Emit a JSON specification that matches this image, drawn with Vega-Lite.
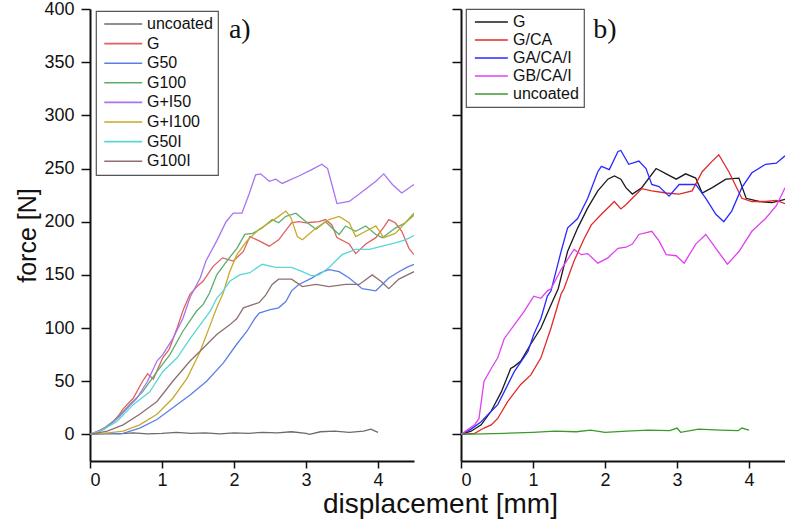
{
  "$schema": "https://vega.github.io/schema/vega-lite/v6.json",
  "padding": {"left": 15, "top": 0, "right": 0, "bottom": 0},
  "background": "white",
  "spacing": 37,
  "title": {"text": "displacement [mm]", "orient": "bottom", "anchor": "middle", "font": "Liberation Sans", "fontSize": 28, "fontWeight": "normal", "color": "#111", "offset": 2, "dx": 40},
  "config": {
    "view": {"stroke": null},
    "axis": {"domainColor": "#111", "domainWidth": 2, "tickColor": "#111", "tickWidth": 1.5, "labelFont": "Liberation Sans", "labelFontSize": 18, "labelColor": "#111", "grid": false, "titleFont": "Liberation Sans", "titleFontWeight": "normal", "titleColor": "#111", "labelOverlap": false, "format": ".0f"},
    "legend": {"labelFont": "Liberation Sans", "labelFontSize": 16, "labelColor": "#111", "symbolStrokeWidth": 1.6, "strokeColor": "#555", "strokeWidth": 1.2, "fillColor": "white", "orient": "none", "title": null}
  },
  "datasets": {
    "a": [
      {"s": "uncoated", "x": 0, "y": 0}, {"s": "uncoated", "x": 0.2, "y": 1}, {"s": "uncoated", "x": 0.4, "y": 0.5}, {"s": "uncoated", "x": 0.6, "y": 1.5}, {"s": "uncoated", "x": 0.8, "y": 0.5}, {"s": "uncoated", "x": 1.0, "y": 1}, {"s": "uncoated", "x": 1.2, "y": 2}, {"s": "uncoated", "x": 1.4, "y": 1}, {"s": "uncoated", "x": 1.6, "y": 1.5}, {"s": "uncoated", "x": 1.8, "y": 0.5}, {"s": "uncoated", "x": 2.0, "y": 1.5}, {"s": "uncoated", "x": 2.2, "y": 1}, {"s": "uncoated", "x": 2.4, "y": 2}, {"s": "uncoated", "x": 2.6, "y": 1.5}, {"s": "uncoated", "x": 2.8, "y": 2.5}, {"s": "uncoated", "x": 3.0, "y": 1}, {"s": "uncoated", "x": 3.05, "y": 0}, {"s": "uncoated", "x": 3.2, "y": 2.5}, {"s": "uncoated", "x": 3.4, "y": 3}, {"s": "uncoated", "x": 3.6, "y": 2}, {"s": "uncoated", "x": 3.8, "y": 3}, {"s": "uncoated", "x": 3.9, "y": 5}, {"s": "uncoated", "x": 4.0, "y": 2},
      {"s": "G", "x": 0, "y": 0}, {"s": "G", "x": 0.14, "y": 4}, {"s": "G", "x": 0.28, "y": 9}, {"s": "G", "x": 0.4, "y": 18}, {"s": "G", "x": 0.46, "y": 24}, {"s": "G", "x": 0.6, "y": 34}, {"s": "G", "x": 0.73, "y": 50}, {"s": "G", "x": 0.8, "y": 57}, {"s": "G", "x": 0.88, "y": 52}, {"s": "G", "x": 1.01, "y": 72}, {"s": "G", "x": 1.1, "y": 80}, {"s": "G", "x": 1.21, "y": 100}, {"s": "G", "x": 1.3, "y": 118}, {"s": "G", "x": 1.39, "y": 132}, {"s": "G", "x": 1.5, "y": 140}, {"s": "G", "x": 1.57, "y": 144}, {"s": "G", "x": 1.71, "y": 158}, {"s": "G", "x": 1.84, "y": 166}, {"s": "G", "x": 1.99, "y": 163}, {"s": "G", "x": 2.13, "y": 172}, {"s": "G", "x": 2.22, "y": 186}, {"s": "G", "x": 2.35, "y": 182}, {"s": "G", "x": 2.49, "y": 177}, {"s": "G", "x": 2.62, "y": 183}, {"s": "G", "x": 2.8, "y": 199}, {"s": "G", "x": 2.9, "y": 200}, {"s": "G", "x": 3.0, "y": 199}, {"s": "G", "x": 3.18, "y": 200}, {"s": "G", "x": 3.27, "y": 202}, {"s": "G", "x": 3.36, "y": 197}, {"s": "G", "x": 3.43, "y": 185}, {"s": "G", "x": 3.6, "y": 179}, {"s": "G", "x": 3.69, "y": 170}, {"s": "G", "x": 3.83, "y": 179}, {"s": "G", "x": 3.97, "y": 185}, {"s": "G", "x": 4.08, "y": 195}, {"s": "G", "x": 4.15, "y": 202}, {"s": "G", "x": 4.24, "y": 199}, {"s": "G", "x": 4.33, "y": 191}, {"s": "G", "x": 4.43, "y": 175}, {"s": "G", "x": 4.5, "y": 169},
      {"s": "G50", "x": 0, "y": 0}, {"s": "G50", "x": 0.2, "y": 0.5}, {"s": "G50", "x": 0.46, "y": 1}, {"s": "G50", "x": 0.69, "y": 6}, {"s": "G50", "x": 0.93, "y": 14}, {"s": "G50", "x": 1.15, "y": 25}, {"s": "G50", "x": 1.39, "y": 37}, {"s": "G50", "x": 1.62, "y": 50}, {"s": "G50", "x": 1.85, "y": 67}, {"s": "G50", "x": 2.04, "y": 85}, {"s": "G50", "x": 2.18, "y": 97}, {"s": "G50", "x": 2.29, "y": 109}, {"s": "G50", "x": 2.35, "y": 114}, {"s": "G50", "x": 2.49, "y": 117}, {"s": "G50", "x": 2.62, "y": 119}, {"s": "G50", "x": 2.72, "y": 125}, {"s": "G50", "x": 2.8, "y": 135}, {"s": "G50", "x": 2.9, "y": 141}, {"s": "G50", "x": 3.08, "y": 147}, {"s": "G50", "x": 3.2, "y": 152}, {"s": "G50", "x": 3.32, "y": 155}, {"s": "G50", "x": 3.46, "y": 153}, {"s": "G50", "x": 3.6, "y": 147}, {"s": "G50", "x": 3.78, "y": 137}, {"s": "G50", "x": 3.97, "y": 135}, {"s": "G50", "x": 4.06, "y": 141}, {"s": "G50", "x": 4.15, "y": 147}, {"s": "G50", "x": 4.29, "y": 153}, {"s": "G50", "x": 4.4, "y": 157}, {"s": "G50", "x": 4.5, "y": 160},
      {"s": "G100", "x": 0, "y": 0}, {"s": "G100", "x": 0.14, "y": 3}, {"s": "G100", "x": 0.37, "y": 15}, {"s": "G100", "x": 0.55, "y": 28}, {"s": "G100", "x": 0.73, "y": 40}, {"s": "G100", "x": 0.93, "y": 59}, {"s": "G100", "x": 1.11, "y": 75}, {"s": "G100", "x": 1.29, "y": 97}, {"s": "G100", "x": 1.48, "y": 116}, {"s": "G100", "x": 1.57, "y": 122}, {"s": "G100", "x": 1.66, "y": 133}, {"s": "G100", "x": 1.76, "y": 150}, {"s": "G100", "x": 1.9, "y": 163}, {"s": "G100", "x": 2.04, "y": 175}, {"s": "G100", "x": 2.15, "y": 188}, {"s": "G100", "x": 2.26, "y": 189}, {"s": "G100", "x": 2.39, "y": 194}, {"s": "G100", "x": 2.53, "y": 202}, {"s": "G100", "x": 2.62, "y": 199}, {"s": "G100", "x": 2.72, "y": 205}, {"s": "G100", "x": 2.86, "y": 208}, {"s": "G100", "x": 3.0, "y": 200}, {"s": "G100", "x": 3.14, "y": 193}, {"s": "G100", "x": 3.27, "y": 200}, {"s": "G100", "x": 3.46, "y": 188}, {"s": "G100", "x": 3.55, "y": 196}, {"s": "G100", "x": 3.69, "y": 191}, {"s": "G100", "x": 3.83, "y": 196}, {"s": "G100", "x": 3.97, "y": 188}, {"s": "G100", "x": 4.06, "y": 185}, {"s": "G100", "x": 4.24, "y": 194}, {"s": "G100", "x": 4.38, "y": 199}, {"s": "G100", "x": 4.5, "y": 208},
      {"s": "G+I50", "x": 0, "y": 0}, {"s": "G+I50", "x": 0.2, "y": 5}, {"s": "G+I50", "x": 0.4, "y": 16}, {"s": "G+I50", "x": 0.55, "y": 27}, {"s": "G+I50", "x": 0.65, "y": 34}, {"s": "G+I50", "x": 0.8, "y": 50}, {"s": "G+I50", "x": 0.93, "y": 69}, {"s": "G+I50", "x": 1.01, "y": 75}, {"s": "G+I50", "x": 1.15, "y": 90}, {"s": "G+I50", "x": 1.29, "y": 109}, {"s": "G+I50", "x": 1.39, "y": 129}, {"s": "G+I50", "x": 1.53, "y": 147}, {"s": "G+I50", "x": 1.61, "y": 163}, {"s": "G+I50", "x": 1.76, "y": 182}, {"s": "G+I50", "x": 1.89, "y": 200}, {"s": "G+I50", "x": 1.99, "y": 208}, {"s": "G+I50", "x": 2.11, "y": 208}, {"s": "G+I50", "x": 2.21, "y": 226}, {"s": "G+I50", "x": 2.3, "y": 244}, {"s": "G+I50", "x": 2.37, "y": 245}, {"s": "G+I50", "x": 2.49, "y": 238}, {"s": "G+I50", "x": 2.58, "y": 240}, {"s": "G+I50", "x": 2.67, "y": 236}, {"s": "G+I50", "x": 2.9, "y": 243}, {"s": "G+I50", "x": 3.08, "y": 249}, {"s": "G+I50", "x": 3.22, "y": 254}, {"s": "G+I50", "x": 3.3, "y": 250}, {"s": "G+I50", "x": 3.36, "y": 235}, {"s": "G+I50", "x": 3.43, "y": 217}, {"s": "G+I50", "x": 3.6, "y": 219}, {"s": "G+I50", "x": 3.74, "y": 226}, {"s": "G+I50", "x": 3.97, "y": 238}, {"s": "G+I50", "x": 4.08, "y": 245}, {"s": "G+I50", "x": 4.2, "y": 235}, {"s": "G+I50", "x": 4.33, "y": 227}, {"s": "G+I50", "x": 4.5, "y": 235},
      {"s": "G+I100", "x": 0, "y": 0}, {"s": "G+I100", "x": 0.2, "y": 1}, {"s": "G+I100", "x": 0.46, "y": 3}, {"s": "G+I100", "x": 0.69, "y": 9}, {"s": "G+I100", "x": 0.93, "y": 19}, {"s": "G+I100", "x": 1.15, "y": 34}, {"s": "G+I100", "x": 1.35, "y": 53}, {"s": "G+I100", "x": 1.53, "y": 78}, {"s": "G+I100", "x": 1.67, "y": 103}, {"s": "G+I100", "x": 1.76, "y": 119}, {"s": "G+I100", "x": 1.85, "y": 133}, {"s": "G+I100", "x": 1.94, "y": 153}, {"s": "G+I100", "x": 2.04, "y": 169}, {"s": "G+I100", "x": 2.18, "y": 182}, {"s": "G+I100", "x": 2.35, "y": 193}, {"s": "G+I100", "x": 2.49, "y": 199}, {"s": "G+I100", "x": 2.62, "y": 205}, {"s": "G+I100", "x": 2.72, "y": 210}, {"s": "G+I100", "x": 2.79, "y": 204}, {"s": "G+I100", "x": 2.88, "y": 186}, {"s": "G+I100", "x": 2.95, "y": 183}, {"s": "G+I100", "x": 3.14, "y": 194}, {"s": "G+I100", "x": 3.32, "y": 202}, {"s": "G+I100", "x": 3.46, "y": 205}, {"s": "G+I100", "x": 3.6, "y": 199}, {"s": "G+I100", "x": 3.69, "y": 186}, {"s": "G+I100", "x": 3.83, "y": 191}, {"s": "G+I100", "x": 3.97, "y": 196}, {"s": "G+I100", "x": 4.08, "y": 185}, {"s": "G+I100", "x": 4.24, "y": 189}, {"s": "G+I100", "x": 4.38, "y": 199}, {"s": "G+I100", "x": 4.5, "y": 206},
      {"s": "G50I", "x": 0, "y": 0}, {"s": "G50I", "x": 0.14, "y": 3}, {"s": "G50I", "x": 0.37, "y": 12}, {"s": "G50I", "x": 0.6, "y": 28}, {"s": "G50I", "x": 0.83, "y": 40}, {"s": "G50I", "x": 1.01, "y": 59}, {"s": "G50I", "x": 1.21, "y": 72}, {"s": "G50I", "x": 1.39, "y": 90}, {"s": "G50I", "x": 1.53, "y": 103}, {"s": "G50I", "x": 1.67, "y": 116}, {"s": "G50I", "x": 1.76, "y": 128}, {"s": "G50I", "x": 1.85, "y": 135}, {"s": "G50I", "x": 1.94, "y": 144}, {"s": "G50I", "x": 2.08, "y": 150}, {"s": "G50I", "x": 2.22, "y": 152}, {"s": "G50I", "x": 2.39, "y": 160}, {"s": "G50I", "x": 2.58, "y": 157}, {"s": "G50I", "x": 2.8, "y": 157}, {"s": "G50I", "x": 2.95, "y": 153}, {"s": "G50I", "x": 3.08, "y": 149}, {"s": "G50I", "x": 3.18, "y": 150}, {"s": "G50I", "x": 3.32, "y": 157}, {"s": "G50I", "x": 3.5, "y": 169}, {"s": "G50I", "x": 3.69, "y": 174}, {"s": "G50I", "x": 3.88, "y": 174}, {"s": "G50I", "x": 4.06, "y": 177}, {"s": "G50I", "x": 4.24, "y": 180}, {"s": "G50I", "x": 4.38, "y": 183}, {"s": "G50I", "x": 4.5, "y": 187},
      {"s": "G100I", "x": 0, "y": 0}, {"s": "G100I", "x": 0.24, "y": 3}, {"s": "G100I", "x": 0.46, "y": 9}, {"s": "G100I", "x": 0.69, "y": 19}, {"s": "G100I", "x": 0.93, "y": 31}, {"s": "G100I", "x": 1.15, "y": 50}, {"s": "G100I", "x": 1.39, "y": 69}, {"s": "G100I", "x": 1.57, "y": 81}, {"s": "G100I", "x": 1.76, "y": 94}, {"s": "G100I", "x": 1.94, "y": 103}, {"s": "G100I", "x": 2.04, "y": 109}, {"s": "G100I", "x": 2.13, "y": 119}, {"s": "G100I", "x": 2.26, "y": 122}, {"s": "G100I", "x": 2.35, "y": 124}, {"s": "G100I", "x": 2.44, "y": 131}, {"s": "G100I", "x": 2.53, "y": 141}, {"s": "G100I", "x": 2.62, "y": 146}, {"s": "G100I", "x": 2.8, "y": 146}, {"s": "G100I", "x": 2.95, "y": 139}, {"s": "G100I", "x": 3.14, "y": 141}, {"s": "G100I", "x": 3.32, "y": 139}, {"s": "G100I", "x": 3.55, "y": 141}, {"s": "G100I", "x": 3.74, "y": 141}, {"s": "G100I", "x": 3.92, "y": 150}, {"s": "G100I", "x": 4.04, "y": 144}, {"s": "G100I", "x": 4.15, "y": 137}, {"s": "G100I", "x": 4.29, "y": 146}, {"s": "G100I", "x": 4.38, "y": 149}, {"s": "G100I", "x": 4.5, "y": 153}
    ],
    "b": [
      {"s": "G", "x": 0, "y": 0}, {"s": "G", "x": 0.14, "y": 3}, {"s": "G", "x": 0.28, "y": 9}, {"s": "G", "x": 0.42, "y": 22}, {"s": "G", "x": 0.56, "y": 40}, {"s": "G", "x": 0.69, "y": 62}, {"s": "G", "x": 0.74, "y": 64}, {"s": "G", "x": 0.83, "y": 69}, {"s": "G", "x": 0.97, "y": 85}, {"s": "G", "x": 1.11, "y": 100}, {"s": "G", "x": 1.25, "y": 122}, {"s": "G", "x": 1.35, "y": 137}, {"s": "G", "x": 1.48, "y": 172}, {"s": "G", "x": 1.62, "y": 194}, {"s": "G", "x": 1.76, "y": 213}, {"s": "G", "x": 1.9, "y": 229}, {"s": "G", "x": 2.04, "y": 240}, {"s": "G", "x": 2.13, "y": 243}, {"s": "G", "x": 2.22, "y": 240}, {"s": "G", "x": 2.29, "y": 232}, {"s": "G", "x": 2.38, "y": 226}, {"s": "G", "x": 2.51, "y": 232}, {"s": "G", "x": 2.71, "y": 250}, {"s": "G", "x": 2.85, "y": 245}, {"s": "G", "x": 2.99, "y": 240}, {"s": "G", "x": 3.12, "y": 245}, {"s": "G", "x": 3.26, "y": 241}, {"s": "G", "x": 3.35, "y": 227}, {"s": "G", "x": 3.49, "y": 232}, {"s": "G", "x": 3.68, "y": 240}, {"s": "G", "x": 3.86, "y": 241}, {"s": "G", "x": 3.96, "y": 222}, {"s": "G", "x": 4.14, "y": 219}, {"s": "G", "x": 4.32, "y": 218}, {"s": "G", "x": 4.5, "y": 221},
      {"s": "G/CA", "x": 0, "y": 0}, {"s": "G/CA", "x": 0.19, "y": 1}, {"s": "G/CA", "x": 0.32, "y": 6}, {"s": "G/CA", "x": 0.42, "y": 9}, {"s": "G/CA", "x": 0.51, "y": 15}, {"s": "G/CA", "x": 0.65, "y": 31}, {"s": "G/CA", "x": 0.83, "y": 47}, {"s": "G/CA", "x": 0.97, "y": 56}, {"s": "G/CA", "x": 1.11, "y": 72}, {"s": "G/CA", "x": 1.25, "y": 100}, {"s": "G/CA", "x": 1.39, "y": 132}, {"s": "G/CA", "x": 1.43, "y": 137}, {"s": "G/CA", "x": 1.57, "y": 163}, {"s": "G/CA", "x": 1.71, "y": 184}, {"s": "G/CA", "x": 1.81, "y": 197}, {"s": "G/CA", "x": 1.95, "y": 207}, {"s": "G/CA", "x": 2.13, "y": 219}, {"s": "G/CA", "x": 2.22, "y": 212}, {"s": "G/CA", "x": 2.29, "y": 216}, {"s": "G/CA", "x": 2.38, "y": 222}, {"s": "G/CA", "x": 2.51, "y": 231}, {"s": "G/CA", "x": 2.65, "y": 229}, {"s": "G/CA", "x": 2.85, "y": 227}, {"s": "G/CA", "x": 3.03, "y": 226}, {"s": "G/CA", "x": 3.21, "y": 229}, {"s": "G/CA", "x": 3.35, "y": 247}, {"s": "G/CA", "x": 3.49, "y": 257}, {"s": "G/CA", "x": 3.58, "y": 263}, {"s": "G/CA", "x": 3.72, "y": 247}, {"s": "G/CA", "x": 3.9, "y": 222}, {"s": "G/CA", "x": 4.04, "y": 219}, {"s": "G/CA", "x": 4.23, "y": 219}, {"s": "G/CA", "x": 4.38, "y": 220}, {"s": "G/CA", "x": 4.5, "y": 217},
      {"s": "GA/CA/I", "x": 0, "y": 0}, {"s": "GA/CA/I", "x": 0.14, "y": 5}, {"s": "GA/CA/I", "x": 0.28, "y": 12}, {"s": "GA/CA/I", "x": 0.38, "y": 19}, {"s": "GA/CA/I", "x": 0.51, "y": 28}, {"s": "GA/CA/I", "x": 0.6, "y": 40}, {"s": "GA/CA/I", "x": 0.74, "y": 59}, {"s": "GA/CA/I", "x": 0.93, "y": 78}, {"s": "GA/CA/I", "x": 1.01, "y": 94}, {"s": "GA/CA/I", "x": 1.11, "y": 109}, {"s": "GA/CA/I", "x": 1.2, "y": 130}, {"s": "GA/CA/I", "x": 1.25, "y": 135}, {"s": "GA/CA/I", "x": 1.39, "y": 172}, {"s": "GA/CA/I", "x": 1.48, "y": 194}, {"s": "GA/CA/I", "x": 1.62, "y": 203}, {"s": "GA/CA/I", "x": 1.76, "y": 222}, {"s": "GA/CA/I", "x": 1.9, "y": 247}, {"s": "GA/CA/I", "x": 1.95, "y": 252}, {"s": "GA/CA/I", "x": 2.06, "y": 249}, {"s": "GA/CA/I", "x": 2.18, "y": 266}, {"s": "GA/CA/I", "x": 2.22, "y": 267}, {"s": "GA/CA/I", "x": 2.33, "y": 254}, {"s": "GA/CA/I", "x": 2.47, "y": 257}, {"s": "GA/CA/I", "x": 2.57, "y": 250}, {"s": "GA/CA/I", "x": 2.65, "y": 235}, {"s": "GA/CA/I", "x": 2.75, "y": 233}, {"s": "GA/CA/I", "x": 2.89, "y": 224}, {"s": "GA/CA/I", "x": 3.03, "y": 235}, {"s": "GA/CA/I", "x": 3.26, "y": 235}, {"s": "GA/CA/I", "x": 3.4, "y": 222}, {"s": "GA/CA/I", "x": 3.54, "y": 207}, {"s": "GA/CA/I", "x": 3.65, "y": 200}, {"s": "GA/CA/I", "x": 3.76, "y": 210}, {"s": "GA/CA/I", "x": 3.9, "y": 232}, {"s": "GA/CA/I", "x": 4.04, "y": 246}, {"s": "GA/CA/I", "x": 4.23, "y": 254}, {"s": "GA/CA/I", "x": 4.38, "y": 255}, {"s": "GA/CA/I", "x": 4.5, "y": 262},
      {"s": "GB/CA/I", "x": 0, "y": 0}, {"s": "GB/CA/I", "x": 0.19, "y": 9}, {"s": "GB/CA/I", "x": 0.25, "y": 15}, {"s": "GB/CA/I", "x": 0.32, "y": 50}, {"s": "GB/CA/I", "x": 0.42, "y": 62}, {"s": "GB/CA/I", "x": 0.51, "y": 72}, {"s": "GB/CA/I", "x": 0.6, "y": 90}, {"s": "GB/CA/I", "x": 0.74, "y": 103}, {"s": "GB/CA/I", "x": 0.88, "y": 116}, {"s": "GB/CA/I", "x": 1.01, "y": 130}, {"s": "GB/CA/I", "x": 1.11, "y": 128}, {"s": "GB/CA/I", "x": 1.2, "y": 135}, {"s": "GB/CA/I", "x": 1.25, "y": 137}, {"s": "GB/CA/I", "x": 1.39, "y": 155}, {"s": "GB/CA/I", "x": 1.57, "y": 174}, {"s": "GB/CA/I", "x": 1.67, "y": 169}, {"s": "GB/CA/I", "x": 1.76, "y": 170}, {"s": "GB/CA/I", "x": 1.9, "y": 161}, {"s": "GB/CA/I", "x": 2.04, "y": 166}, {"s": "GB/CA/I", "x": 2.18, "y": 175}, {"s": "GB/CA/I", "x": 2.29, "y": 176}, {"s": "GB/CA/I", "x": 2.38, "y": 179}, {"s": "GB/CA/I", "x": 2.47, "y": 188}, {"s": "GB/CA/I", "x": 2.65, "y": 191}, {"s": "GB/CA/I", "x": 2.75, "y": 182}, {"s": "GB/CA/I", "x": 2.85, "y": 169}, {"s": "GB/CA/I", "x": 2.99, "y": 168}, {"s": "GB/CA/I", "x": 3.1, "y": 161}, {"s": "GB/CA/I", "x": 3.26, "y": 179}, {"s": "GB/CA/I", "x": 3.4, "y": 188}, {"s": "GB/CA/I", "x": 3.54, "y": 175}, {"s": "GB/CA/I", "x": 3.7, "y": 160}, {"s": "GB/CA/I", "x": 3.86, "y": 172}, {"s": "GB/CA/I", "x": 4.04, "y": 191}, {"s": "GB/CA/I", "x": 4.23, "y": 203}, {"s": "GB/CA/I", "x": 4.38, "y": 215}, {"s": "GB/CA/I", "x": 4.5, "y": 232},
      {"s": "uncoated", "x": 0, "y": 0}, {"s": "uncoated", "x": 0.3, "y": 0.5}, {"s": "uncoated", "x": 0.6, "y": 1}, {"s": "uncoated", "x": 1.0, "y": 2}, {"s": "uncoated", "x": 1.3, "y": 3}, {"s": "uncoated", "x": 1.6, "y": 2.5}, {"s": "uncoated", "x": 1.8, "y": 4}, {"s": "uncoated", "x": 2.0, "y": 2}, {"s": "uncoated", "x": 2.3, "y": 3}, {"s": "uncoated", "x": 2.6, "y": 4}, {"s": "uncoated", "x": 2.9, "y": 3.5}, {"s": "uncoated", "x": 3.0, "y": 6}, {"s": "uncoated", "x": 3.05, "y": 2}, {"s": "uncoated", "x": 3.3, "y": 5}, {"s": "uncoated", "x": 3.6, "y": 4}, {"s": "uncoated", "x": 3.85, "y": 3.5}, {"s": "uncoated", "x": 3.9, "y": 6}, {"s": "uncoated", "x": 4.0, "y": 4}
    ]
  },
  "resolve": {"scale": {"x": "independent", "y": "independent", "color": "independent"}, "axis": {"x": "independent", "y": "independent"}, "legend": {"color": "independent"}},
  "hconcat": [
    {
      "width": 324,
      "height": 452,
      "layer": [
        {
          "data": {"name": "a"},
          "mark": {"type": "line", "strokeWidth": 1.3, "clip": true},
          "encoding": {
            "x": {"field": "x", "type": "quantitative", "scale": {"domain": [0, 4.5], "nice": false, "zero": false},
              "axis": {"title": null, "labelOverlap": false, "values": [0, 0.5, 1, 1.5, 2, 2.5, 3, 3.5, 4, 4.5], "labelExpr": "datum.value % 1 == 0 ? datum.label : ''", "tickSize": 7, "tickDash": {"condition": {"test": "datum.value % 1 != 0", "value": [4, 20]}, "value": []}, "labelPadding": 3}},
            "y": {"field": "y", "type": "quantitative", "scale": {"domain": [-25, 400], "nice": false, "zero": false},
              "axis": {"title": "force [N]", "titleFontSize": 25, "titlePadding": 3, "labelOverlap": false, "values": [0, 25, 50, 75, 100, 125, 150, 175, 200, 225, 250, 275, 300, 325, 350, 375, 400], "labelExpr": "datum.value % 50 == 0 ? datum.label : ''", "tickSize": 9, "tickDash": {"condition": {"test": "datum.value % 50 != 0", "value": [4, 20]}, "value": []}, "labelPadding": 7}},
            "color": {"field": "s", "type": "nominal",
              "scale": {"domain": ["uncoated", "G", "G50", "G100", "G+I50", "G+I100", "G50I", "G100I"], "range": ["#6b6b6b", "#e06060", "#5b7fe8", "#5aae6e", "#a874ee", "#c9a92a", "#5ad6d6", "#8f6f6f"]},
              "legend": {"legendX": 6, "legendY": 2, "symbolType": "M-1,0H7", "symbolSize": 90, "rowPadding": 3.6, "labelOffset": 30, "padding": 5}}
          }
        },
        {
          "data": {"values": [{"x": 2.08, "y": 380, "label": "a)"}]},
          "mark": {"type": "text", "font": "Liberation Serif", "fontSize": 28, "color": "#111", "baseline": "middle", "align": "center"},
          "encoding": {"x": {"field": "x", "type": "quantitative"}, "y": {"field": "y", "type": "quantitative"}, "text": {"field": "label"}}
        }
      ]
    },
    {
      "width": 324,
      "height": 452,
      "layer": [
        {
          "data": {"name": "b"},
          "mark": {"type": "line", "strokeWidth": 1.3, "clip": true},
          "encoding": {
            "x": {"field": "x", "type": "quantitative", "scale": {"domain": [0, 4.5], "nice": false, "zero": false},
              "axis": {"title": null, "labelOverlap": false, "values": [0, 0.5, 1, 1.5, 2, 2.5, 3, 3.5, 4, 4.5], "labelExpr": "datum.value % 1 == 0 ? datum.label : ''", "tickSize": 7, "tickDash": {"condition": {"test": "datum.value % 1 != 0", "value": [4, 20]}, "value": []}, "labelPadding": 3}},
            "y": {"field": "y", "type": "quantitative", "scale": {"domain": [-25, 400], "nice": false, "zero": false},
              "axis": {"title": null, "labels": false, "values": [0, 25, 50, 75, 100, 125, 150, 175, 200, 225, 250, 275, 300, 325, 350, 375, 400], "tickSize": 9, "tickDash": {"condition": {"test": "datum.value % 50 != 0", "value": [4, 20]}, "value": []}}},
            "color": {"field": "s", "type": "nominal",
              "scale": {"domain": ["G", "G/CA", "GA/CA/I", "GB/CA/I", "uncoated"], "range": ["#1a1a1a", "#e02a2a", "#2a2aff", "#e040f0", "#3c9a2c"]},
              "legend": {"legendX": 5, "legendY": 0, "symbolType": "M-1,0H7", "symbolSize": 68, "rowPadding": 2, "labelOffset": 26, "padding": 5}}
          }
        },
        {
          "data": {"values": [{"x": 2.0, "y": 380, "label": "b)"}]},
          "mark": {"type": "text", "font": "Liberation Serif", "fontSize": 28, "color": "#111", "baseline": "middle", "align": "center"},
          "encoding": {"x": {"field": "x", "type": "quantitative"}, "y": {"field": "y", "type": "quantitative"}, "text": {"field": "label"}}
        }
      ]
    }
  ]
}
